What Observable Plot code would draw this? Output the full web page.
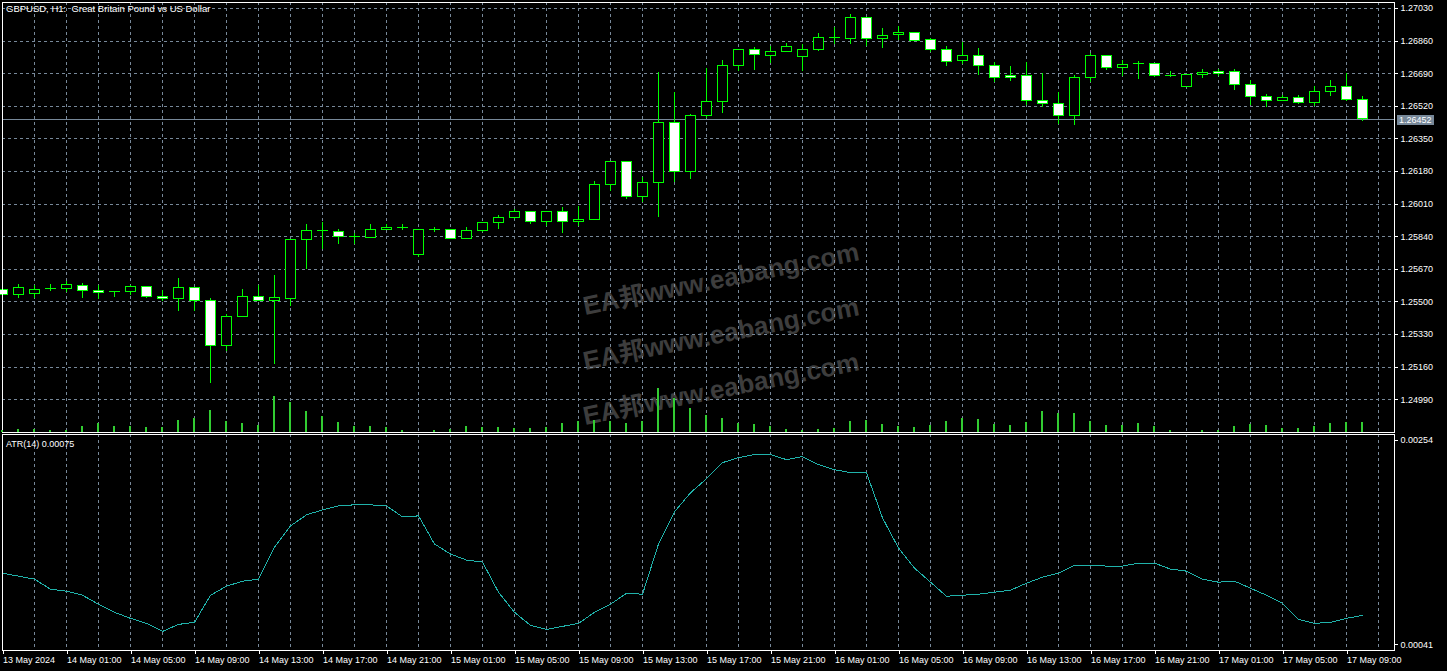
<!DOCTYPE html>
<html><head><meta charset="utf-8">
<script src="https://cdn.jsdelivr.net/npm/d3@7"></script>
<script src="https://cdn.jsdelivr.net/npm/@observablehq/plot@0.6"></script>
<style>
html,body{margin:0;padding:0;background:#000;}
#chart{position:relative;width:1447px;height:671px;background:#000;overflow:hidden;font-family:"Liberation Sans",Arial,sans-serif;color:#fff;}
#chart svg{position:absolute;left:0;background:transparent;max-width:none;}
#chart svg line,#chart svg path,#chart svg rect{shape-rendering:crispEdges;}
.wm{position:absolute;font-weight:bold;font-size:26px;line-height:26px;font-family:"Liberation Sans","Noto Sans CJK SC",sans-serif;color:#3d3d3d;white-space:nowrap;transform-origin:0 22px;transform:rotate(-11.3deg);}
.lbl{position:absolute;white-space:pre;color:#fff;font-size:9px;line-height:10px;}
</style></head><body><div id="chart"></div>
<script>
const symbolTitle = "GBPUSD, H1:  Great Britain Pound vs US Dollar";
const atrLabel = "ATR(14) 0.00075";
const watermarkText = "EA邦www.eabang.com";

const timeLabels = ["13 May 2024","14 May 01:00","14 May 05:00","14 May 09:00","14 May 13:00","14 May 17:00","14 May 21:00",
  "15 May 01:00","15 May 05:00","15 May 09:00","15 May 13:00","15 May 17:00","15 May 21:00",
  "16 May 01:00","16 May 05:00","16 May 09:00","16 May 13:00","16 May 17:00","16 May 21:00",
  "17 May 01:00","17 May 05:00","17 May 09:00"];

const priceTicks = [1.27030,1.26860,1.26690,1.26520,1.26350,1.26180,1.26010,1.25840,1.25670,1.25500,1.25330,1.25160,1.24990];
const atrTicks = [0.00254, 0.00041];

const opens = [1.25560,1.25535,1.25540,1.25568,1.25566,1.25584,1.25558,1.25552,1.25551,1.25579,
1.25528,1.25514,1.25574,1.25504,1.25271,1.25423,1.25527,1.25504,1.25516,1.25824,
1.25870,1.25866,1.25841,1.25834,1.25876,1.25888,1.25744,1.25875,1.25876,1.25829,
1.25871,1.25913,1.25939,1.25970,1.25918,1.25970,1.25918,1.25928,1.26111,1.26231,
1.26048,1.26121,1.26434,1.26179,1.26471,1.26544,1.26731,1.26815,1.26783,1.26804,
1.26778,1.26815,1.26876,1.26872,1.26982,1.26872,1.26893,1.26903,1.26867,1.26815,
1.26757,1.26783,1.26731,1.26679,1.26679,1.26549,1.26533,1.26471,1.26669,1.26783,
1.26721,1.26743,1.26742,1.26680,1.26622,1.26684,1.26700,1.26700,1.26632,1.26570,
1.26549,1.26564,1.26538,1.26596,1.26622,1.26554];

const highs = [1.25565,1.25591,1.25586,1.25591,1.25607,1.25596,1.25586,1.25554,1.25586,1.25581,
1.25558,1.25622,1.25576,1.25520,1.25433,1.25563,1.25586,1.25636,1.25826,1.25902,
1.25913,1.25876,1.25855,1.25904,1.25904,1.25902,1.25878,1.25887,1.25878,1.25887,
1.25915,1.25949,1.25980,1.25972,1.25972,1.25991,1.25996,1.26126,1.26233,1.26233,
1.26147,1.26698,1.26590,1.26477,1.26716,1.26757,1.26817,1.26825,1.26830,1.26846,
1.26841,1.26898,1.26929,1.26997,1.26984,1.26924,1.26935,1.26905,1.26872,1.26830,
1.26851,1.26820,1.26747,1.26726,1.26747,1.26690,1.26590,1.26679,1.26794,1.26785,
1.26757,1.26752,1.26744,1.26700,1.26686,1.26710,1.26710,1.26710,1.26653,1.26580,
1.26575,1.26575,1.26622,1.26653,1.26690,1.26570];

const lows = [1.25532,1.25520,1.25516,1.25556,1.25548,1.25520,1.25513,1.25525,1.25535,1.25516,
1.25504,1.25449,1.25449,1.25076,1.25243,1.25421,1.25502,1.25175,1.25475,1.25668,
1.25772,1.25798,1.25798,1.25832,1.25872,1.25872,1.25733,1.25861,1.25824,1.25824,
1.25861,1.25876,1.25928,1.25902,1.25892,1.25855,1.25892,1.25926,1.26076,1.26033,
1.26017,1.25939,1.26121,1.26137,1.26455,1.26481,1.26703,1.26708,1.26745,1.26802,
1.26703,1.26804,1.26841,1.26841,1.26830,1.26820,1.26862,1.26860,1.26799,1.26726,
1.26736,1.26679,1.26643,1.26648,1.26523,1.26512,1.26424,1.26418,1.26643,1.26705,
1.26674,1.26658,1.26672,1.26669,1.26620,1.26663,1.26674,1.26601,1.26523,1.26512,
1.26544,1.26528,1.26517,1.26570,1.26544,1.26439];

const closes = [1.25535,1.25575,1.25563,1.25566,1.25586,1.25558,1.25546,1.25550,1.25579,1.25527,
1.25516,1.25574,1.25504,1.25271,1.25423,1.25527,1.25504,1.25522,1.25824,1.25871,
1.25868,1.25840,1.25839,1.25876,1.25887,1.25886,1.25876,1.25873,1.25829,1.25871,
1.25913,1.25939,1.25970,1.25918,1.25970,1.25918,1.25928,1.26111,1.26231,1.26048,
1.26121,1.26434,1.26179,1.26471,1.26544,1.26731,1.26815,1.26789,1.26804,1.26830,
1.26815,1.26877,1.26874,1.26982,1.26872,1.26888,1.26903,1.26862,1.26815,1.26752,
1.26783,1.26731,1.26669,1.26669,1.26549,1.26533,1.26471,1.26669,1.26783,1.26721,
1.26736,1.26741,1.26679,1.26678,1.26684,1.26695,1.26691,1.26632,1.26570,1.26549,
1.26564,1.26538,1.26596,1.26622,1.26554,1.26452];

const volumes = [50,75,75,50,50,150,225,150,150,125,125,300,350,550,275,225,175,900,750,525,
400,250,150,150,125,50,5,50,75,150,125,125,100,100,125,225,275,300,275,225,
275,1100,850,600,425,350,225,200,150,75,50,75,100,275,300,200,150,125,175,275,
350,325,200,175,250,525,475,475,275,175,175,225,150,50,5,50,50,150,200,175,
100,100,150,225,250,250];

const atrValues = [0.00117,0.00114,0.00111,0.00101,0.00099,0.00095,0.00086,0.00078,0.00072,0.00067,
0.00059,0.00066,0.00068,0.00095,0.00104,0.00109,0.00111,0.00143,0.00164,0.00175,
0.00180,0.00184,0.00185,0.00185,0.00184,0.00173,0.00174,0.00146,0.00136,0.00130,
0.00128,0.00098,0.00078,0.00065,0.00061,0.00064,0.00067,0.00078,0.00086,0.00097,
0.00096,0.00146,0.00178,0.00197,0.00211,0.00227,0.00232,0.00235,0.00235,0.00230,
0.00233,0.00225,0.00220,0.00217,0.00217,0.00172,0.00142,0.00122,0.00108,0.00094,
0.00095,0.00096,0.00098,0.00100,0.00107,0.00113,0.00117,0.00125,0.00125,0.00124,
0.00124,0.00127,0.00127,0.00121,0.00119,0.00111,0.00108,0.00109,0.00102,0.00095,
0.00087,0.00071,0.00067,0.00068,0.00072,0.00075];

const bars = opens.map((o, i) => ({i, open: o, high: highs[i], low: lows[i], close: closes[i], volume: volumes[i], atr: atrValues[i]}));
const labelBars = timeLabels.map((_, j) => j * 4);
const gridBars = d3.range(2, bars.length + 1, 2);
const lastClose = closes[closes.length - 1];

const GRID = "#778899";
const FONT = {background: "transparent", color: "#fff", fontFamily: "'Liberation Sans', Arial, sans-serif", fontSize: "9px"};
const xDomain = [0, 87];

const chart = document.getElementById("chart");

// watermark (behind the plots)
[293, 348, 403].forEach(t => {
  const d = document.createElement("div");
  d.className = "wm"; d.textContent = watermarkText;
  d.style.left = "585px"; d.style.top = t + "px";
  chart.appendChild(d);
});

const mainPlot = Plot.plot({
  width: 1447, height: 434, marginTop: 2, marginBottom: 2, marginLeft: 2, marginRight: 53,
  style: FONT,
  x: {type: "linear", domain: xDomain, axis: null, label: null},
  y: {domain: [1.248195, 1.270613], axis: null, label: null},
  marks: [
    Plot.gridY(priceTicks, {stroke: GRID, strokeOpacity: 1, strokeDasharray: "3,3"}),
    Plot.gridX(gridBars, {stroke: GRID, strokeOpacity: 1, strokeDasharray: "3,3"}),
    Plot.ruleY([lastClose], {stroke: GRID}),
    Plot.ruleX(bars, {x: "i", y1: "low", y2: "high", stroke: "#00ff00"}),
    Plot.rect(bars, {x1: d => d.i - 5/16, x2: d => d.i + 5/16, y1: "open", y2: "close",
      fill: d => d.close < d.open ? "#ffffff" : "#000000", stroke: "#00ff00"}),
    Plot.axisY(priceTicks, {anchor: "right", tickSize: 3, tickPadding: 3, tickFormat: d => d.toFixed(5), label: null}),
    Plot.frame({stroke: "#ffffff"})
  ]
});
mainPlot.style.top = "0px";
chart.appendChild(mainPlot);

const volPlot = Plot.plot({
  width: 1447, height: 100, marginTop: 0, marginBottom: 0, marginLeft: 2, marginRight: 53,
  style: FONT,
  x: {type: "linear", domain: xDomain, axis: null, label: null},
  y: {domain: [0, 2500], axis: null, label: null},
  marks: [
    Plot.ruleX(bars, {x: "i", y1: 0, y2: "volume", stroke: "#32cd32", strokeWidth: 2, dx: -0.5})
  ]
});
volPlot.style.top = "332px";
chart.appendChild(volPlot);

const atrPlot = Plot.plot({
  width: 1447, height: 239, marginTop: 2, marginBottom: 21, marginLeft: 2, marginRight: 53,
  style: FONT,
  x: {type: "linear", domain: xDomain, label: null},
  y: {domain: [0.000400, 0.002550], label: null},
  marks: [
    Plot.gridX(gridBars, {stroke: GRID, strokeOpacity: 1, strokeDasharray: "3,3"}),
    Plot.line(bars, {x: "i", y: "atr", stroke: "#20b2aa", strokeWidth: 1}),
    Plot.axisX(labelBars, {anchor: "bottom", tickSize: 4, tickPadding: 2, textAnchor: "start", dx: 0.5,
      tickFormat: i => timeLabels[i / 4], label: null}),
    Plot.axisY([atrTicks[0]], {anchor: "right", tickSize: 3, tickPadding: 3, dy: 4.5, tickFormat: d => d.toFixed(5), label: null}),
    Plot.axisY([atrTicks[1]], {anchor: "right", tickSize: 3, tickPadding: 3, dy: -4.5, tickFormat: d => d.toFixed(5), label: null}),
    Plot.frame({stroke: "#ffffff"})
  ]
});
atrPlot.style.top = "432px";
chart.appendChild(atrPlot);

// title + indicator label
const t1 = document.createElement("div");
t1.className = "lbl"; t1.style.fontSize = "9.5px"; t1.style.left = "6px"; t1.style.top = "4px";
t1.textContent = symbolTitle; chart.appendChild(t1);
const t2 = document.createElement("div");
t2.className = "lbl"; t2.style.left = "6px"; t2.style.top = "439px";
t2.textContent = atrLabel; chart.appendChild(t2);

// current price tag, positioned via the plot's y scale
const yPx = mainPlot.scale("y").apply(lastClose);
const tag = document.createElement("div");
tag.className = "lbl";
tag.style.cssText += "background:#778899;padding:0 2px;height:10px;line-height:10px;left:1397px;";
tag.style.top = (Math.round(yPx) - 4) + "px";
tag.textContent = lastClose.toFixed(5);
chart.appendChild(tag);
</script>
</body></html>
